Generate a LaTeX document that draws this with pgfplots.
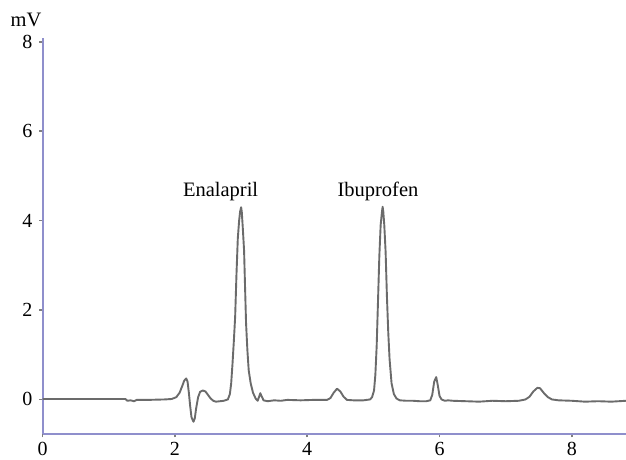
\documentclass[border=0pt]{standalone}
\usepackage{fontspec}
\setmainfont{Liberation Serif}
\usepackage{pgfplots}
\pgfplotsset{compat=1.18}
\definecolor{axisblue}{rgb}{0.56,0.56,0.80}
\definecolor{trace}{rgb}{0.42,0.42,0.42}

\begin{document}
\begin{tikzpicture}
\path[use as bounding box] (-21.35pt,-12.6pt) rectangle (291.65pt,217.15pt);
\begin{axis}[
    at={(0,0)}, anchor=south west,
    scale only axis,
    width=291.65pt, height=198pt,
    xmin=0, xmax=8.82,
    ymin=-0.78, ymax=8.08,
    axis x line*=bottom, axis y line*=left,
    axis line style={axisblue, line width=0.9pt},
    xtick={0,2,4,6,8}, ytick={0,2,4,6,8},
    tick align=outside, major tick length=1.6pt,
    tick style={gray, line width=0.8pt},
    minor tick num=0,
    /pgf/number format/assume math mode=true,
    tick label style={font=\fontsize{10}{12}\selectfont},
    xticklabel style={inner sep=1pt, yshift=-1pt},
    clip=false
]
\addplot[trace, line width=0.95pt, line join=round] coordinates {
(0,0.01) (1.25,0.01) (1.28,-0.03) (1.33,-0.02) (1.38,-0.04) (1.42,-0.01)
(1.6,-0.01) (1.85,0) (1.95,0.01) (2.02,0.05) (2.07,0.15) (2.11,0.3)
(2.14,0.42) (2.17,0.47) (2.19,0.4) (2.21,0.15) (2.23,-0.15) (2.25,-0.4)
(2.28,-0.5) (2.30,-0.42) (2.32,-0.2) (2.35,0.05) (2.38,0.17) (2.42,0.2)
(2.46,0.18) (2.5,0.1) (2.54,0.02) (2.58,-0.03) (2.62,-0.05) (2.68,-0.04)
(2.74,-0.03) (2.8,0.0) (2.83,0.12) (2.85,0.36) (2.87,0.8) (2.89,1.3)
(2.91,1.85) (2.93,2.8) (2.95,3.6) (2.97,4.0) (2.985,4.2) (3.0,4.3)
(3.01,4.2) (3.025,3.85) (3.045,3.33) (3.06,2.5) (3.075,1.7) (3.095,1.1)
(3.115,0.65) (3.145,0.36) (3.18,0.15) (3.22,0.02) (3.25,-0.03) (3.27,0.05)
(3.29,0.14) (3.31,0.07) (3.34,-0.02) (3.4,-0.04) (3.5,-0.02) (3.6,-0.03)
(3.7,-0.01) (3.9,-0.02) (4.1,-0.01) (4.3,-0.01) (4.35,0.03) (4.4,0.15)
(4.45,0.24) (4.5,0.18) (4.55,0.06) (4.6,-0.01) (4.7,-0.02) (4.85,-0.02)
(4.95,0.0) (4.98,0.05) (5.01,0.2) (5.03,0.55) (5.05,1.2) (5.07,2.2)
(5.09,3.2) (5.11,3.9) (5.13,4.2) (5.14,4.31) (5.15,4.2) (5.165,3.9)
(5.185,3.3) (5.205,2.3) (5.225,1.5) (5.245,0.9) (5.275,0.36) (5.31,0.12)
(5.35,0.02) (5.4,-0.02) (5.5,-0.03) (5.6,-0.03) (5.7,-0.04) (5.8,-0.04)
(5.86,-0.02) (5.89,0.1) (5.92,0.4) (5.95,0.5) (5.97,0.35) (6.0,0.08)
(6.03,0.0) (6.08,-0.03) (6.13,-0.02) (6.2,-0.03) (6.4,-0.04) (6.6,-0.05)
(6.8,-0.03) (7.0,-0.04) (7.2,-0.03) (7.3,0.0) (7.36,0.06) (7.42,0.18)
(7.48,0.26) (7.52,0.25) (7.58,0.14) (7.64,0.05) (7.7,0.0) (7.8,-0.02)
(8.0,-0.03) (8.2,-0.05) (8.4,-0.04) (8.6,-0.05) (8.82,-0.03)
};
\node[anchor=base, font=\fontsize{10.25}{12}\selectfont] at (axis cs:2.69,4.53) {Enalapril};
\node[anchor=base, font=\fontsize{10.25}{12}\selectfont] at (axis cs:5.07,4.53) {Ibuprofen};
\node[anchor=base, font=\fontsize{10.25}{12}\selectfont, xshift=-8.35pt, yshift=5.8pt] at (rel axis cs:0,1) {mV};
\end{axis}
\end{tikzpicture}
\end{document}
